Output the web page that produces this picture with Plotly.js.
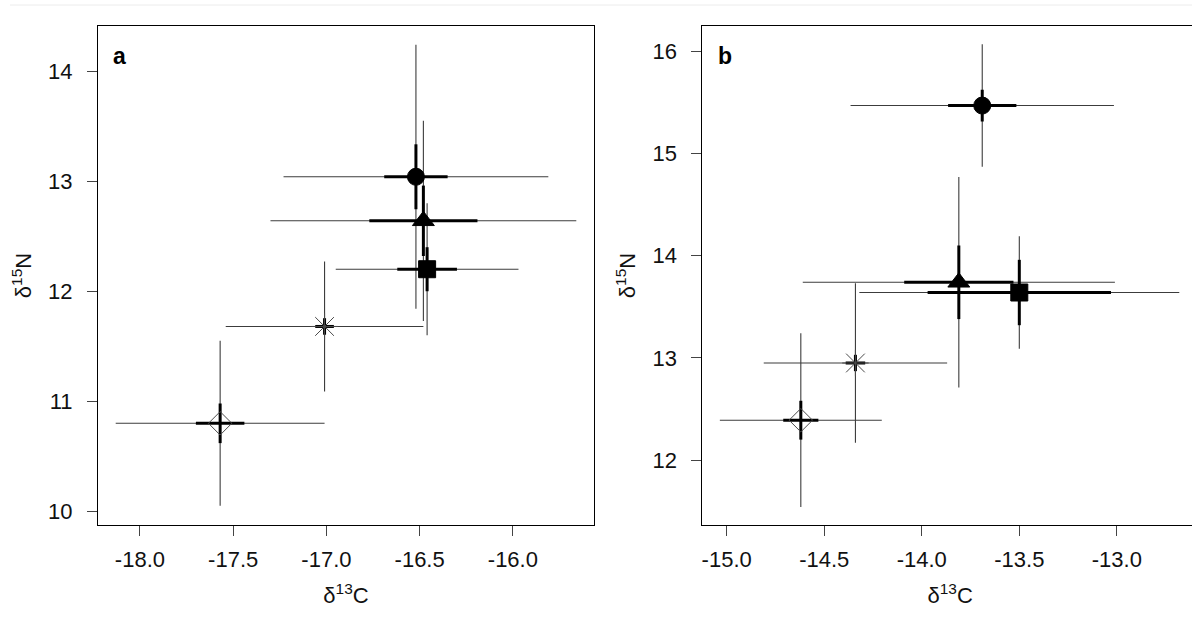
<!DOCTYPE html>
<html>
<head>
<meta charset="utf-8">
<script src="https://cdn.plot.ly/plotly-3.0.1.min.js"></script>
<style>
  html, body { margin: 0; padding: 0; background: #ffffff; overflow: hidden; }
  #chart { width: 1208px; height: 617px; }
</style>
</head>
<body>
<div id="chart"></div>
<script>
// Groups (order of markers): filled circle, filled triangle, filled square, asterisk, open diamond
const groups = ["G1", "G2", "G3", "G4", "G5"];
const symbols = ["circle", "triangle-up", "square", "asterisk-open", "diamond-open"];

// Panel a: means, SD (thin bars), SE (thick bars)
const d13C_a   = [-16.52, -16.48, -16.46, -17.01, -17.57];
const d15N_a   = [13.04, 12.64, 12.20, 11.68, 10.80];
const sdC_a    = [0.71, 0.82, 0.49, 0.53, 0.56];
const sdN_a    = [1.20, 0.91, 0.60, 0.59, 0.75];
const seC_a    = [0.17, 0.29, 0.16, 0.05, 0.13];
const seN_a    = [0.295, 0.32, 0.20, 0.075, 0.18];

// Panel b
const d13C_b   = [-13.69, -13.81, -13.50, -14.34, -14.62];
const d15N_b   = [15.47, 13.74, 13.64, 12.95, 12.39];
const sdC_b    = [0.675, 0.80, 0.82, 0.47, 0.415];
const sdN_b    = [0.60, 1.03, 0.55, 0.78, 0.85];
const seC_b    = [0.175, 0.28, 0.47, 0.05, 0.09];
const seN_b    = [0.155, 0.36, 0.32, 0.08, 0.19];

// Tick labels
const xTicksA = [-18.0, -17.5, -17.0, -16.5, -16.0];
const xTickTextA = ["-18.0", "-17.5", "-17.0", "-16.5", "-16.0"];
const yTicksA = [10, 11, 12, 13, 14];
const xTicksB = [-15.0, -14.5, -14.0, -13.5, -13.0];
const xTickTextB = ["-15.0", "-14.5", "-14.0", "-13.5", "-13.0"];
const yTicksB = [12, 13, 14, 15, 16];

const markerColors = ["#000000", "#000000", "#000000", "#4a4a4a", "#4a4a4a"];
const markerSizes = [17, 19, 17, 22, 18];

function panelTraces(xs, ys, sdx, sdy, sex, sey, xa, ya) {
  const thin = {
    x: xs, y: ys, xaxis: xa, yaxis: ya, type: "scatter", mode: "markers",
    marker: { size: 2, color: "rgba(0,0,0,0)" },
    error_x: { type: "data", array: sdx, symmetric: true, thickness: 1.1, width: 0, color: "#3c3c3c" },
    error_y: { type: "data", array: sdy, symmetric: true, thickness: 1.1, width: 0, color: "#3c3c3c" },
    hoverinfo: "skip", showlegend: false
  };
  const thick = {
    x: xs, y: ys, xaxis: xa, yaxis: ya, type: "scatter", mode: "markers",
    marker: { size: 2, color: "rgba(0,0,0,0)" },
    error_x: { type: "data", array: sex, symmetric: true, thickness: 3, width: 0, color: "#000000" },
    error_y: { type: "data", array: sey, symmetric: true, thickness: 3, width: 0, color: "#000000" },
    hoverinfo: "skip", showlegend: false
  };
  const pts = {
    x: xs, y: ys, xaxis: xa, yaxis: ya, type: "scatter", mode: "markers",
    text: groups,
    marker: { symbol: symbols, size: markerSizes, color: markerColors, opacity: 1,
              line: { width: 1, color: "#000000" } },
    showlegend: false
  };
  return [thin, thick, pts];
}

const data = [].concat(
  panelTraces(d13C_a, d15N_a, sdC_a, sdN_a, seC_a, seN_a, "x", "y"),
  panelTraces(d13C_b, d15N_b, sdC_b, sdN_b, seC_b, seN_b, "x2", "y2")
);

const tickFont = { family: "Liberation Sans, Arial, sans-serif", size: 22, color: "#111111" };
const titleFont = { family: "Liberation Sans, Arial, sans-serif", size: 22, color: "#111111" };

function xAxis(domain, range, tv, tt, anchor) {
  return {
    domain: domain, range: range, anchor: anchor,
    tickmode: "array", tickvals: tv, ticktext: tt,
    ticks: "outside", ticklen: 10, tickwidth: 1, tickcolor: "#444444",
    showline: true, linecolor: "#000000", linewidth: 1, mirror: true,
    showgrid: false, zeroline: false, tickfont: tickFont, ticklabelstandoff: 5,
    title: { text: "δ<sup>13</sup>C", font: titleFont, standoff: 16 }
  };
}
function yAxis(range, tv, anchor) {
  return {
    domain: [0, 1], range: range, anchor: anchor,
    tickmode: "array", tickvals: tv, ticktext: tv.map(String),
    ticks: "outside", ticklen: 10, tickwidth: 1, tickcolor: "#444444",
    showline: true, linecolor: "#000000", linewidth: 1, mirror: true,
    showgrid: false, zeroline: false, tickfont: tickFont, ticklabelstandoff: 10,
    title: { text: "δ<sup>15</sup>N", font: titleFont, standoff: 10 }
  };
}

const layout = {
  width: 1208, height: 617,
  margin: { l: 98, r: 10, t: 26, b: 92 },
  paper_bgcolor: "#ffffff", plot_bgcolor: "#ffffff",
  showlegend: false,
  xaxis: xAxis([0, 0.45091], [-18.225, -15.565], xTicksA, xTickTextA, "y"),
  yaxis: yAxis([9.876, 14.41], yTicksA, "x"),
  xaxis2: xAxis([0.54936, 1], [-15.125, -12.584], xTicksB, xTickTextB, "y2"),
  yaxis2: yAxis([11.364, 16.249], yTicksB, "x2"),
  annotations: [
    { text: "<b>a</b>", xref: "x domain", yref: "y domain", x: 0.044, y: 0.94,
      xanchor: "center", yanchor: "middle", showarrow: false,
      font: { family: "Liberation Sans, Arial, sans-serif", size: 23, color: "#000000" } },
    { text: "<b>b</b>", xref: "x2 domain", yref: "y2 domain", x: 0.046, y: 0.94,
      xanchor: "center", yanchor: "middle", showarrow: false,
      font: { family: "Liberation Sans, Arial, sans-serif", size: 23, color: "#000000" } }
  ],
  shapes: [
    { type: "line", xref: "paper", yref: "paper", x0: -0.08, x1: 1.1, y0: 1.042, y1: 1.042,
      line: { color: "#ececec", width: 1 } }
  ]
};

Plotly.newPlot("chart", data, layout, { staticPlot: true, displayModeBar: false });
</script>
</body>
</html>
